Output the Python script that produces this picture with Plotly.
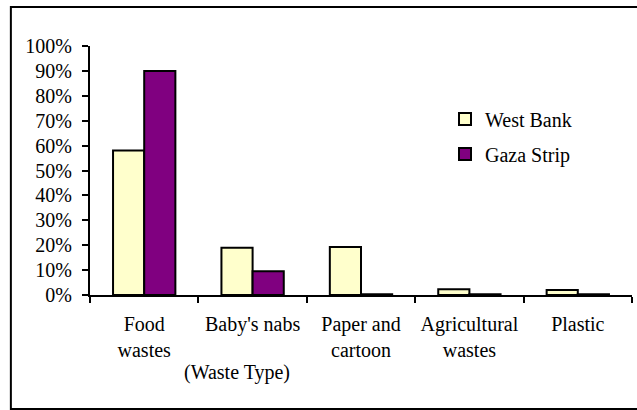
import plotly.graph_objects as go

# Waste composition by region (share of total)
categories = ["Food<br>wastes", "Baby's nabs", "Paper and<br>cartoon", "Agricultural<br>wastes", "Plastic"]
west_bank = [0.58, 0.19, 0.193, 0.023, 0.02]
gaza_strip = [0.90, 0.095, 0.003, 0.003, 0.003]

font = dict(family="Liberation Serif, Times New Roman, serif", size=20, color="black")

fig = go.Figure()
fig.add_trace(
    go.Bar(
        x=categories,
        y=west_bank,
        name="West Bank",
        legendgroup="wb",
        marker=dict(color="#FFFFCC", line=dict(color="black", width=2)),
    )
)
fig.add_trace(
    go.Bar(
        x=categories,
        y=gaza_strip,
        name="Gaza Strip",
        legendgroup="gs",
        marker=dict(color="#800080", line=dict(color="black", width=2)),
    )
)

# Outer chart border
fig.add_shape(
    type="rect", xref="paper", yref="paper",
    x0=-0.146, x1=1.1, y0=-0.458, y1=1.157,
    line=dict(color="black", width=2),
)
# x axis line runs a bit past the value axis, like Excel draws it
fig.add_shape(
    type="line", xref="paper", yref="paper",
    x0=-0.013, x1=0, y0=0, y1=0,
    line=dict(color="black", width=2),
)

fig.add_annotation(
    text="(Waste Type)", xref="paper", yref="paper",
    x=0.271, y=-0.313, xanchor="center", yanchor="middle",
    showarrow=False, font=font,
)

fig.update_layout(
    width=637,
    height=410,
    margin=dict(l=90, r=5, t=46, b=115),
    paper_bgcolor="white",
    plot_bgcolor="white",
    font=font,
    barmode="group",
    bargap=0.425,
    bargroupgap=0,
    showlegend=True,
    legend=dict(
        x=0.655, y=0.785, xanchor="left", yanchor="top",
        traceorder="grouped", tracegroupgap=6,
        bgcolor="rgba(0,0,0,0)", font=font,
    ),
    xaxis=dict(
        type="category",
        tickson="boundaries",
        ticks="outside",
        ticklen=6,
        tickwidth=2,
        tickcolor="black",
        showline=True,
        linecolor="black",
        linewidth=2,
        showgrid=False,
        range=[-0.5, 4.5],
        ticklabelstandoff=10,
    ),
    yaxis=dict(
        range=[0, 1],
        dtick=0.1,
        tickformat=".0%",
        ticks="outside",
        ticklen=6,
        tickwidth=2,
        tickcolor="black",
        showline=True,
        linecolor="black",
        linewidth=2,
        showgrid=False,
        zeroline=False,
        ticklabelstandoff=6,
    ),
)

fig.write_html(
    "out.html",
    config={"displayModeBar": False},
    post_script="document.body.style.margin = '0';",
)
